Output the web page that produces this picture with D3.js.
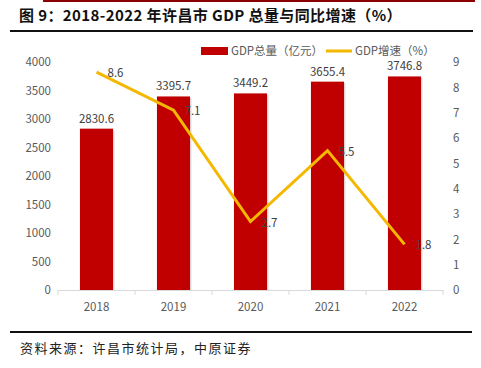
<!DOCTYPE html>
<html>
<head>
<meta charset="utf-8">
<script src="https://cdn.jsdelivr.net/npm/d3@7"></script>
<style>
  body { margin: 0; background: #fff; }
  svg { display: block; }
</style>
</head>
<body>
<svg id="chart"></svg>
<script>
const years = ["2018", "2019", "2020", "2021", "2022"];
const gdpTotal = [2830.6, 3395.7, 3449.2, 3655.4, 3746.8];
const gdpGrowth = [8.6, 7.1, 2.7, 5.5, 1.8];
const leftTicks = [0, 500, 1000, 1500, 2000, 2500, 3000, 3500, 4000];
const rightTicks = [0, 1, 2, 3, 4, 5, 6, 7, 8, 9];

const W = 481, H = 368;
const svg = d3.select("#chart").attr("width", W).attr("height", H);
const font = "'Microsoft YaHei', 'Noto Sans CJK SC', 'DejaVu Sans', sans-serif";

// top decoration + title
svg.append("rect").attr("x", 43).attr("y", 0).attr("width", 432).attr("height", 2).attr("fill", "#8B0000");
svg.append("text")
    .attr("x", 19).attr("y", 21)
    .attr("font-family", "'Noto Sans CJK SC', sans-serif")
    .attr("font-weight", "bold")
    .attr("font-size", 15)
    .attr("letter-spacing", 0.4)
    .attr("fill", "#111")
    .text("图 9：2018-2022 年许昌市 GDP 总量与同比增速（%）");
svg.append("line").attr("x1", 10).attr("x2", 473).attr("y1", 31).attr("y2", 31)
    .attr("stroke", "#111").attr("stroke-width", 2);

// source
svg.append("line").attr("x1", 10).attr("x2", 472).attr("y1", 332).attr("y2", 332)
    .attr("stroke", "#111").attr("stroke-width", 2);
svg.append("text")
    .attr("x", 20).attr("y", 353)
    .attr("font-family", "'Noto Sans CJK SC', sans-serif")
    .attr("font-size", 13)
    .attr("letter-spacing", 1.5)
    .attr("fill", "#222")
    .text("资料来源：许昌市统计局，中原证券");

// scales
const x = d3.scaleBand().domain(years).range([58, 443]).paddingInner(0.57).paddingOuter(0.285);
const step = x.step();
const yL = d3.scaleLinear().domain([0, 4000]).range([290, 62]);
const yR = d3.scaleLinear().domain([0, 9]).range([290, 62]);

// left axis labels
const axL = svg.append("g").attr("transform", "translate(51,0)")
    .call(d3.axisLeft(yL).tickValues(leftTicks).tickFormat(d3.format("d")).tickSize(0).tickPadding(0));
axL.select(".domain").remove();
axL.selectAll("text").attr("font-family", font).attr("font-size", 11.5).attr("fill", "#595959");

// right axis labels
const axR = svg.append("g").attr("transform", "translate(453,0)")
    .call(d3.axisRight(yR).tickValues(rightTicks).tickFormat(d3.format("d")).tickSize(0).tickPadding(0));
axR.select(".domain").remove();
axR.selectAll("text").attr("font-family", font).attr("font-size", 11.5).attr("fill", "#595959");

// bars
const bars = svg.append("g");
bars.selectAll("rect.shadow").data(gdpTotal).enter().append("rect")
    .attr("x", (d, i) => x(years[i]) + 1.5)
    .attr("y", d => yL(d) + 1.5)
    .attr("width", x.bandwidth())
    .attr("height", d => 290 - yL(d) - 1.5)
    .attr("fill", "#000").attr("opacity", 0.12);
bars.selectAll("rect.bar").data(gdpTotal).enter().append("rect")
    .attr("class", "bar")
    .attr("x", (d, i) => x(years[i]))
    .attr("y", d => yL(d))
    .attr("width", x.bandwidth())
    .attr("height", d => 290 - yL(d))
    .attr("fill", "#C00000");

// x axis
const axB = svg.append("g").attr("transform", "translate(0,290)")
    .call(d3.axisBottom(x).tickSize(0).tickPadding(13));
axB.select(".domain").attr("stroke", "#d9d9d9");
axB.selectAll("text").attr("font-family", font).attr("font-size", 11.5).attr("fill", "#595959");
axB.selectAll(".sep").data(d3.range(years.length + 1)).enter().append("line")
    .attr("x1", i => 58 + i * step).attr("x2", i => 58 + i * step)
    .attr("y1", 0).attr("y2", 5).attr("stroke", "#d9d9d9");

// bar labels
svg.append("g").selectAll("text").data(gdpTotal).enter().append("text")
    .attr("x", (d, i) => x(years[i]) + x.bandwidth() / 2)
    .attr("y", d => yL(d) - 6)
    .attr("text-anchor", "middle")
    .attr("font-family", font).attr("font-size", 11.5).attr("fill", "#404040")
    .text(d => d.toFixed(1));

// line
const cx = i => x(years[i]) + x.bandwidth() / 2;
const line = d3.line().x((d, i) => cx(i)).y(d => yR(d));
svg.append("path").datum(gdpGrowth)
    .attr("d", line)
    .attr("fill", "none")
    .attr("stroke", "#F5B800")
    .attr("stroke-width", 3)
    .attr("stroke-linejoin", "miter");

svg.append("g").selectAll("text").data(gdpGrowth).enter().append("text")
    .attr("x", (d, i) => cx(i) + 11)
    .attr("y", d => yR(d) + 5)
    .attr("font-family", font).attr("font-size", 11.5).attr("fill", "#404040")
    .text(d => d.toFixed(1));

// legend
const lg = svg.append("g");
lg.append("rect").attr("x", 201).attr("y", 47).attr("width", 27).attr("height", 8).attr("fill", "#C00000");
lg.append("text").attr("x", 231).attr("y", 55)
    .attr("font-family", font).attr("font-size", 11.5).attr("fill", "#595959")
    .text("GDP总量（亿元）");
lg.append("line").attr("x1", 326).attr("x2", 352).attr("y1", 51).attr("y2", 51)
    .attr("stroke", "#F5B800").attr("stroke-width", 3);
lg.append("text").attr("x", 355).attr("y", 55)
    .attr("font-family", font).attr("font-size", 11.5).attr("fill", "#595959")
    .text("GDP增速（%）");
</script>
</body>
</html>
